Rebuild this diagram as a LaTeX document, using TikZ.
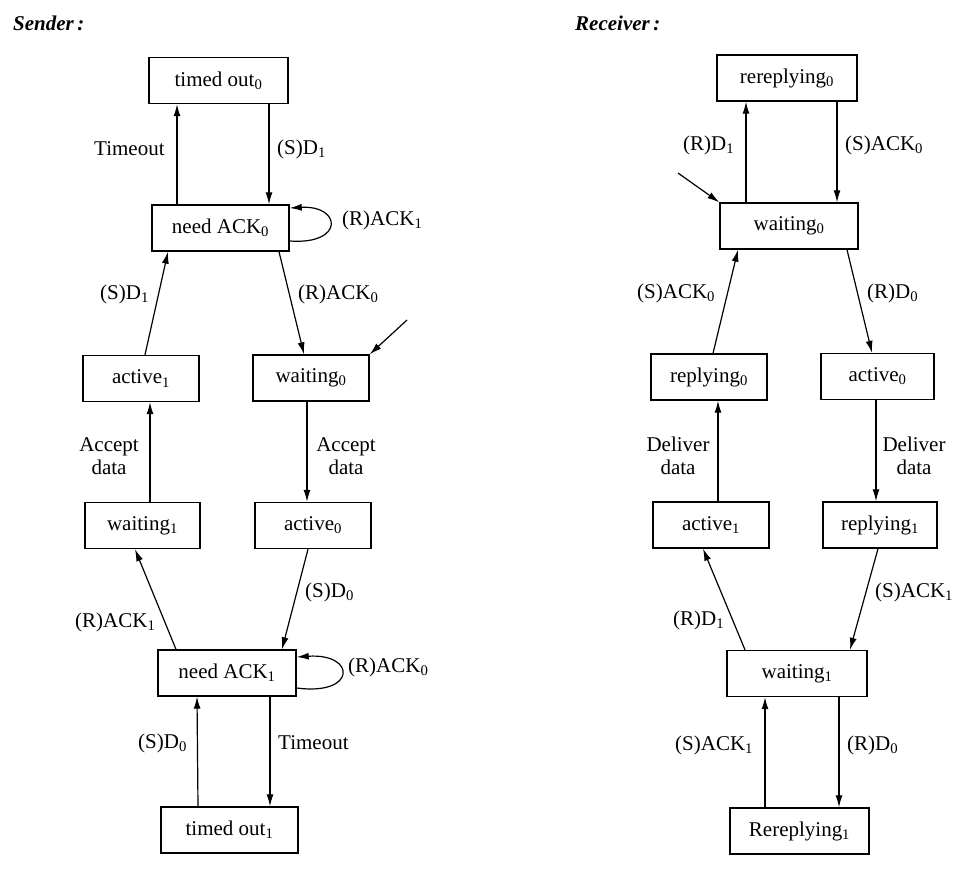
\documentclass[tikz,border=0pt]{standalone}
\usepackage{fontspec}
\setmainfont{Liberation Serif}
\usetikzlibrary{arrows.meta}
\newcommand\ix[1]{\textsubscript{#1}}
\begin{document}
\begin{tikzpicture}[x=1pt,y=-1pt,
  state/.style={draw, line width=1.4pt, minimum height=46pt, inner sep=0pt, font=\fontsize{21}{25}\selectfont},
  lbl/.style={inner sep=0pt, font=\fontsize{21}{23}\selectfont},
  tr/.style={line width=1.2pt, -{Latex[length=12pt,width=7pt]}},
  ttl/.style={inner sep=0pt, font=\fontsize{21}{25}\selectfont\bfseries\itshape, anchor=west}]
\useasboundingbox[fill=white] (0,0) rectangle (972,871);

% titles
\node[ttl] (tS) at (13,23) {Sender\,:};
\node[ttl] (tR) at (575,23) {Receiver\,:};

% sender states
\node[state, minimum width=139pt] (T0) at (218.5,80.5) {timed out\ix{0}};
\node[state, minimum width=137pt] (A0) at (220.5,228) {need ACK\ix{0}};
\node[state, minimum width=116pt] (Ac1) at (141,378.5) {active\ix{1}};
\node[state, minimum width=116pt] (W0) at (311,378) {waiting\ix{0}};
\node[state, minimum width=115pt] (W1) at (142.5,525.5) {waiting\ix{1}};
\node[state, minimum width=116pt] (Ac0) at (313,525.5) {active\ix{0}};
\node[state, minimum width=138pt] (A1) at (227,673) {need ACK\ix{1}};
\node[state, minimum width=137pt] (T1) at (229.5,830) {timed out\ix{1}};

% receiver states
\node[state, minimum width=140pt] (RR0) at (787,78) {rereplying\ix{0}};
\node[state, minimum width=138pt] (RW0) at (789,226) {waiting\ix{0}};
\node[state, minimum width=116pt] (Rp0) at (709,377) {replying\ix{0}};
\node[state, minimum width=113pt] (RA0) at (877.5,376.5) {active\ix{0}};
\node[state, minimum width=116pt] (RA1) at (711,525) {active\ix{1}};
\node[state, minimum width=114pt] (Rp1) at (880,525) {replying\ix{1}};
\node[state, minimum width=140pt] (RW1) at (797,673.5) {waiting\ix{1}};
\node[state, minimum width=139pt] (RR1) at (799.5,831) {Rereplying\ix{1}};

% initial markers
\coordinate (iS) at (407,320);
\coordinate (iR) at (678,173);

% sender transitions
\draw[tr] ([xshift=-43.5pt]A0.north) -- ([xshift=-41.5pt]T0.south);
\draw[tr] ([xshift=50.5pt]T0.south) -- ([xshift=48.5pt]A0.north);
\draw[tr] ([yshift=-13pt]A0.east) .. controls +(55,4) and +(52,-3) .. ([yshift=20pt]A0.east);
\draw[tr] ([xshift=4pt]Ac1.north) -- ([xshift=-52.5pt]A0.south);
\draw[tr] ([xshift=58.5pt]A0.south) -- ([xshift=-7pt]W0.north);
\draw[tr] (iS) -- (W0.north east);
\draw[tr] ([xshift=7.5pt]W1.north) -- ([xshift=9pt]Ac1.south);
\draw[tr] ([xshift=-4pt]W0.south) -- ([xshift=-6pt]Ac0.north);
\draw[tr] ([xshift=-51pt]A1.north) -- ([xshift=-7.5pt]W1.south);
\draw[tr] ([xshift=-5pt]Ac0.south) -- ([xshift=55pt]A1.north);
\draw[tr] ([yshift=-15pt]A1.east) .. controls +(60,8) and +(60,-4) .. ([yshift=16pt]A1.east);
\draw[tr] ([xshift=-31.5pt]T1.north) -- ([xshift=-30pt]A1.south);
\draw[tr] ([xshift=43pt]A1.south) -- ([xshift=40.5pt]T1.north);

% receiver transitions
\draw[tr] ([xshift=-43pt]RW0.north) -- ([xshift=-41pt]RR0.south);
\draw[tr] ([xshift=50pt]RR0.south) -- ([xshift=48pt]RW0.north);
\draw[tr] (iR) -- (RW0.north west);
\draw[tr] ([xshift=4pt]Rp0.north) -- ([xshift=-51pt]RW0.south);
\draw[tr] ([xshift=58pt]RW0.south) -- ([xshift=-5.5pt]RA0.north);
\draw[tr] ([xshift=7pt]RA1.north) -- ([xshift=9pt]Rp0.south);
\draw[tr] ([xshift=-1.5pt]RA0.south) -- ([xshift=-4pt]Rp1.north);
\draw[tr] ([xshift=-52pt]RW1.north) -- ([xshift=-8pt]RA1.south);
\draw[tr] ([xshift=-2pt]Rp1.south) -- ([xshift=53pt]RW1.north);
\draw[tr] ([xshift=-34.5pt]RR1.north) -- ([xshift=-32pt]RW1.south);
\draw[tr] ([xshift=42pt]RW1.south) -- ([xshift=39.5pt]RR1.north);

% sender labels
\node[lbl, anchor=west] (l1) at (94,149) {Timeout};
\node[lbl, anchor=west] (l2) at (277,149) {(S)D\ix{1}};
\node[lbl, anchor=west] (l3) at (342,220) {(R)ACK\ix{1}};
\node[lbl, anchor=west] (l4) at (100,294) {(S)D\ix{1}};
\node[lbl, anchor=west] (l5) at (298,294) {(R)ACK\ix{0}};
\node[lbl, align=center] (l6) at (109,456) {Accept\\data};
\node[lbl, align=center] (l7) at (346,456) {Accept\\data};
\node[lbl, anchor=west] (l8) at (75,622) {(R)ACK\ix{1}};
\node[lbl, anchor=west] (l9) at (305,592) {(S)D\ix{0}};
\node[lbl, anchor=west] (l10) at (348,667) {(R)ACK\ix{0}};
\node[lbl, anchor=west] (l11) at (138,743) {(S)D\ix{0}};
\node[lbl, anchor=west] (l12) at (278,743) {Timeout};

% receiver labels
\node[lbl, anchor=west] (r1) at (683,145) {(R)D\ix{1}};
\node[lbl, anchor=west] (r2) at (845,145) {(S)ACK\ix{0}};
\node[lbl, anchor=west] (r3) at (637,293) {(S)ACK\ix{0}};
\node[lbl, anchor=west] (r4) at (867,293) {(R)D\ix{0}};
\node[lbl, align=center] (r5) at (678,456) {Deliver\\data};
\node[lbl, align=center] (r6) at (914,456) {Deliver\\data};
\node[lbl, anchor=west] (r7) at (673,620) {(R)D\ix{1}};
\node[lbl, anchor=west] (r8) at (875,592) {(S)ACK\ix{1}};
\node[lbl, anchor=west] (r9) at (675,745) {(S)ACK\ix{1}};
\node[lbl, anchor=west] (r10) at (847,745) {(R)D\ix{0}};
\end{tikzpicture}
\end{document}
